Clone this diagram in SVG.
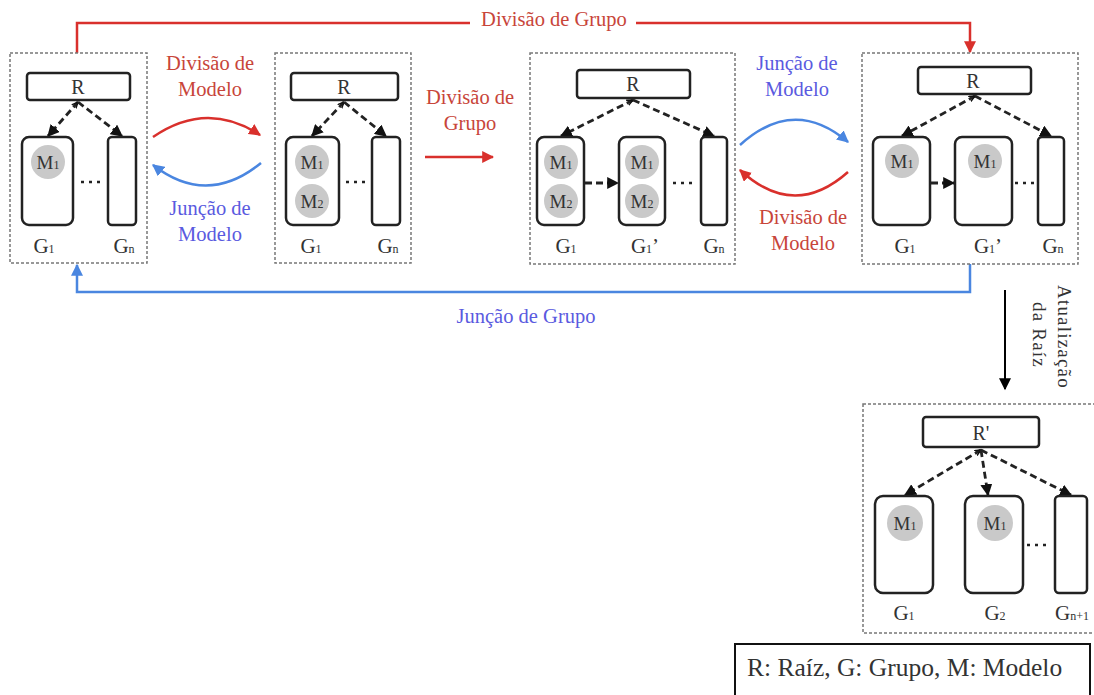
<svg xmlns="http://www.w3.org/2000/svg" width="1094" height="695" viewBox="0 0 1094 695">
  <style>
    text { font-family: "Liberation Serif", "Times New Roman", serif; fill: #333; }
    .frame { fill: none; stroke: #777; stroke-width: 1.5; stroke-dasharray: 3 2; }
    .root { fill: #fff; stroke: #222; stroke-width: 2.5; }
    .grp { fill: #fff; stroke: #222; stroke-width: 2.5; }
    .mdl { fill: #c9c9c9; }
    .lbl { font-size: 21px; text-anchor: middle; }
    .sub { font-size: 12px; }
    .mtxt { font-size: 19px; text-anchor: middle; }
    .rtxt { font-size: 20px; text-anchor: middle; }
    .link { fill: none; stroke: #222; stroke-width: 2.8; stroke-dasharray: 7 4; }
    .dots { fill: none; stroke: #222; stroke-width: 2.5; stroke-dasharray: 3 5; }
    .red { fill: none; stroke: #d9302c; stroke-width: 2.5; }
    .blue { fill: none; stroke: #4a86e0; stroke-width: 2.5; }
    .redtxt { fill: #c8453a; font-size: 20.5px; text-anchor: middle; }
    .bluetxt { fill: #5a5ae0; font-size: 20.5px; text-anchor: middle; }
  </style>
  <defs>
    <marker id="headBlack" viewBox="0 0 10 10" refX="9" refY="5" markerWidth="12" markerHeight="12" markerUnits="userSpaceOnUse" orient="auto">
      <path d="M0,0 L10,5 L0,10 z" fill="#111"/>
    </marker>
    <marker id="tailBlack" viewBox="0 0 10 10" refX="9" refY="5" markerWidth="7" markerHeight="7" markerUnits="userSpaceOnUse" orient="auto-start-reverse">
      <path d="M0,1 L9,5 L0,9" fill="none" stroke="#111" stroke-width="2"/>
    </marker>
    <marker id="headRed" viewBox="0 0 10 10" refX="9" refY="5" markerWidth="12" markerHeight="12" markerUnits="userSpaceOnUse" orient="auto">
      <path d="M0,0 L10,5 L0,10 z" fill="#d9302c"/>
    </marker>
    <marker id="headBlue" viewBox="0 0 10 10" refX="9" refY="5" markerWidth="12" markerHeight="12" markerUnits="userSpaceOnUse" orient="auto">
      <path d="M0,0 L10,5 L0,10 z" fill="#4a86e0"/>
    </marker>
    <marker id="headDown" viewBox="0 0 10 10" refX="9" refY="5" markerWidth="13" markerHeight="12" markerUnits="userSpaceOnUse" orient="auto">
      <path d="M0,0 L10,5 L0,10 z" fill="#000"/>
    </marker>
  </defs>

  <!-- Connectors between states -->
  <g id="connectors">
    <!-- group split: top bracket -->
    <path class="red" d="M77,53 V23 H470 M636,23 H970 V52" marker-end="url(#headRed)"/>
    <text class="redtxt" x="554" y="26">Divisão de Grupo</text>
    <!-- group join: bottom bracket -->
    <path class="blue" d="M970,264 V292 H77 V265" marker-end="url(#headBlue)"/>
    <text class="bluetxt" x="526" y="323">Junção de Grupo</text>

    <!-- model split / join between first two states -->
    <path class="red" d="M153,137 Q207,100 260,135" marker-end="url(#headRed)"/>
    <path class="blue" d="M261,163 Q207,207 153,165" marker-end="url(#headBlue)"/>
    <text class="redtxt" x="210" y="70">Divisão de</text>
    <text class="redtxt" x="210" y="96">Modelo</text>
    <text class="bluetxt" x="210" y="215">Junção de</text>
    <text class="bluetxt" x="210" y="241">Modelo</text>

    <!-- group split in the middle -->
    <path class="red" d="M425,157 H493" marker-end="url(#headRed)"/>
    <text class="redtxt" x="470" y="104">Divisão de</text>
    <text class="redtxt" x="470" y="130">Grupo</text>

    <!-- model join / split between third and fourth states -->
    <path class="blue" d="M740,145 Q794,96 848,142" marker-end="url(#headBlue)"/>
    <path class="red" d="M848,172 Q794,220 740,170" marker-end="url(#headRed)"/>
    <text class="bluetxt" x="797" y="70">Junção de</text>
    <text class="bluetxt" x="797" y="96">Modelo</text>
    <text class="redtxt" x="803" y="224">Divisão de</text>
    <text class="redtxt" x="803" y="250">Modelo</text>

    <!-- root update -->
    <path d="M1005,290 V389" fill="none" stroke="#000" stroke-width="2" marker-end="url(#headDown)"/>
    <text transform="translate(1058,285) rotate(90)" font-size="19" letter-spacing="1.2" fill="#222">Atualização</text>
    <text transform="translate(1033,302) rotate(90)" font-size="19" letter-spacing="1.2" fill="#222">da Raíz</text>
  </g>

  <!-- State 1 -->
  <g id="state1">
    <rect class="frame" x="10" y="53" width="137" height="210"/>
    <rect class="root" x="27" y="73" width="103" height="27" rx="3"/>
    <text class="rtxt" x="78" y="94">R</text>
    <path class="link" d="M78,102 L48,136" marker-start="url(#tailBlack)" marker-end="url(#headBlack)"/>
    <path class="link" d="M78,102 L122,136" marker-end="url(#headBlack)"/>
    <rect class="grp" x="22" y="137" width="51" height="88" rx="7"/>
    <circle class="mdl" cx="48" cy="162" r="17"/>
    <text class="mtxt" x="48" y="169">M<tspan class="sub">1</tspan></text>
    <rect class="grp" x="108" y="137" width="28" height="88" rx="4"/>
    <path class="dots" d="M81,182 H100"/>
    <text class="lbl" x="44" y="253">G<tspan class="sub">1</tspan></text>
    <text class="lbl" x="124" y="253">G<tspan class="sub">n</tspan></text>
  </g>

  <!-- State 2 -->
  <g id="state2">
    <rect class="frame" x="275" y="53" width="136" height="210"/>
    <rect class="root" x="291" y="73" width="107" height="27" rx="3"/>
    <text class="rtxt" x="344" y="94">R</text>
    <path class="link" d="M344,102 L312,136" marker-start="url(#tailBlack)" marker-end="url(#headBlack)"/>
    <path class="link" d="M344,102 L386,136" marker-end="url(#headBlack)"/>
    <rect class="grp" x="286" y="137" width="53" height="88" rx="7"/>
    <circle class="mdl" cx="312" cy="162" r="17"/>
    <text class="mtxt" x="312" y="169">M<tspan class="sub">1</tspan></text>
    <circle class="mdl" cx="312" cy="201" r="17"/>
    <text class="mtxt" x="312" y="208">M<tspan class="sub">2</tspan></text>
    <rect class="grp" x="372" y="137" width="28" height="88" rx="4"/>
    <path class="dots" d="M346,182 H365"/>
    <text class="lbl" x="311" y="253">G<tspan class="sub">1</tspan></text>
    <text class="lbl" x="388" y="253">G<tspan class="sub">n</tspan></text>
  </g>

  <!-- State 3 -->
  <g id="state3">
    <rect class="frame" x="530" y="53" width="205" height="211"/>
    <rect class="root" x="577" y="70" width="113" height="28" rx="3"/>
    <text class="rtxt" x="633" y="91">R</text>
    <path class="link" d="M633,100 L561,136" marker-start="url(#tailBlack)" marker-end="url(#headBlack)"/>
    <path class="link" d="M633,100 L714,136" marker-end="url(#headBlack)"/>
    <rect class="grp" x="537" y="137" width="47" height="88" rx="7"/>
    <circle class="mdl" cx="561" cy="162" r="17"/>
    <text class="mtxt" x="561" y="169">M<tspan class="sub">1</tspan></text>
    <circle class="mdl" cx="561" cy="201" r="17"/>
    <text class="mtxt" x="561" y="208">M<tspan class="sub">2</tspan></text>
    <path class="link" d="M585,183 H618" marker-end="url(#headBlack)"/>
    <rect class="grp" x="619" y="137" width="46" height="88" rx="7"/>
    <circle class="mdl" cx="642" cy="162" r="17"/>
    <text class="mtxt" x="642" y="169">M<tspan class="sub">1</tspan></text>
    <circle class="mdl" cx="642" cy="201" r="17"/>
    <text class="mtxt" x="642" y="208">M<tspan class="sub">2</tspan></text>
    <rect class="grp" x="701" y="137" width="26" height="88" rx="4"/>
    <path class="dots" d="M673,183 H692"/>
    <text class="lbl" x="566" y="253">G<tspan class="sub">1</tspan></text>
    <text class="lbl" x="645" y="253">G<tspan class="sub">1</tspan>’</text>
    <text class="lbl" x="714" y="253">G<tspan class="sub">n</tspan></text>
  </g>

  <!-- State 4 -->
  <g id="state4">
    <rect class="frame" x="862" y="53" width="216" height="211"/>
    <rect class="root" x="918" y="67" width="113" height="27" rx="3"/>
    <text class="rtxt" x="973" y="88">R</text>
    <path class="link" d="M975,96 L902,136" marker-start="url(#tailBlack)" marker-end="url(#headBlack)"/>
    <path class="link" d="M975,96 L1051,136" marker-end="url(#headBlack)"/>
    <rect class="grp" x="873" y="137" width="57" height="88" rx="7"/>
    <circle class="mdl" cx="902" cy="161" r="17"/>
    <text class="mtxt" x="902" y="168">M<tspan class="sub">1</tspan></text>
    <path class="link" d="M931,183 H954" marker-end="url(#headBlack)"/>
    <rect class="grp" x="955" y="137" width="57" height="88" rx="7"/>
    <circle class="mdl" cx="985" cy="161" r="17"/>
    <text class="mtxt" x="985" y="168">M<tspan class="sub">1</tspan></text>
    <rect class="grp" x="1038" y="137" width="26" height="88" rx="4"/>
    <path class="dots" d="M1015,183 H1034"/>
    <text class="lbl" x="905" y="253">G<tspan class="sub">1</tspan></text>
    <text class="lbl" x="988" y="253">G<tspan class="sub">1</tspan>’</text>
    <text class="lbl" x="1053" y="253">G<tspan class="sub">n</tspan></text>
  </g>

  <!-- State 5: after root update -->
  <g id="state5">
    <rect class="frame" x="863" y="404" width="240" height="229"/>
    <rect class="root" x="923" y="417" width="116" height="30" rx="3"/>
    <text class="rtxt" x="981" y="440">R'</text>
    <path class="link" d="M981,450 L905,495" marker-start="url(#tailBlack)" marker-end="url(#headBlack)"/>
    <path class="link" d="M981,450 L988,495" marker-end="url(#headBlack)"/>
    <path class="link" d="M981,450 L1071,495" marker-end="url(#headBlack)"/>
    <rect class="grp" x="875" y="496" width="58" height="97" rx="8"/>
    <circle class="mdl" cx="905" cy="523" r="18"/>
    <text class="mtxt" x="905" y="530">M<tspan class="sub">1</tspan></text>
    <rect class="grp" x="965" y="496" width="58" height="97" rx="8"/>
    <circle class="mdl" cx="995" cy="523" r="18"/>
    <text class="mtxt" x="995" y="530">M<tspan class="sub">1</tspan></text>
    <rect class="grp" x="1055" y="496" width="32" height="97" rx="4"/>
    <path class="dots" d="M1027,545 H1050"/>
    <text class="lbl" x="904" y="620">G<tspan class="sub">1</tspan></text>
    <text class="lbl" x="995" y="620">G<tspan class="sub">2</tspan></text>
    <text class="lbl" x="1072" y="620">G<tspan class="sub">n+1</tspan></text>
  </g>

  <!-- Legend -->
  <g id="legend">
    <rect x="735" y="644" width="355" height="60" fill="#fff" stroke="#111" stroke-width="2"/>
    <text x="747" y="676" font-size="25.5">R: Raíz, G: Grupo, M: Modelo</text>
  </g>
</svg>
